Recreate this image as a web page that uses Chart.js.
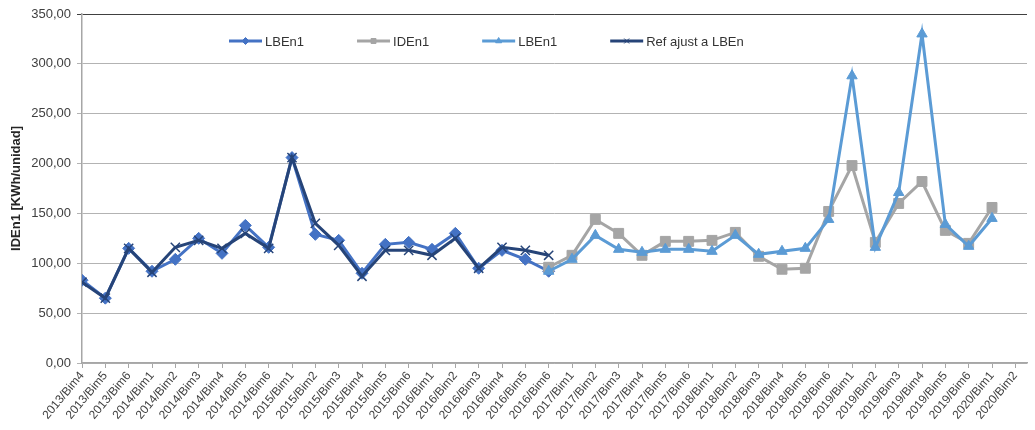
<!DOCTYPE html>
<html>
<head>
<meta charset="utf-8">
<script src="https://cdn.jsdelivr.net/npm/chart.js@4/dist/chart.umd.min.js"></script>
<style>
  html, body { margin: 0; padding: 0; background: #ffffff; }
  #wrap { width: 1035px; height: 430px; position: relative; }
</style>
</head>
<body>
<div id="wrap"><canvas id="c"></canvas></div>
<script>
// Bimonthly periods on the category axis
const periods = [
  '2013/Bim4', '2013/Bim5', '2013/Bim6',
  '2014/Bim1', '2014/Bim2', '2014/Bim3', '2014/Bim4', '2014/Bim5', '2014/Bim6',
  '2015/Bim1', '2015/Bim2', '2015/Bim3', '2015/Bim4', '2015/Bim5', '2015/Bim6',
  '2016/Bim1', '2016/Bim2', '2016/Bim3', '2016/Bim4', '2016/Bim5', '2016/Bim6',
  '2017/Bim1', '2017/Bim2', '2017/Bim3', '2017/Bim4', '2017/Bim5', '2017/Bim6',
  '2018/Bim1', '2018/Bim2', '2018/Bim3', '2018/Bim4', '2018/Bim5', '2018/Bim6',
  '2019/Bim1', '2019/Bim2', '2019/Bim3', '2019/Bim4', '2019/Bim5', '2019/Bim6',
  '2020/Bim1', '2020/Bim2'
];

// Baseline period (2013/Bim4 .. 2016/Bim6)
const lbEn1Base = [83, 65, 115, 92, 104, 125, 110, 138, 116, 206, 129, 123, 90, 119, 121, 114, 130, 95, 113, 104, 92];
const refAdjusted = [81, 65, 115, 91, 116, 123, 115, 130, 115, 206, 140, 118, 87, 113, 113, 108, 125, 95, 116, 113, 108];

// Reporting period (2016/Bim6 .. 2020/Bim1)
const idEn1 = [96, 108, 144, 130, 108, 122, 122, 123, 131, 107, 94, 95, 152, 198, 121, 160, 182, 133, 120, 156];
const lbEn1Report = [92, 104, 128, 114, 111, 114, 114, 112, 128, 109, 112, 115, 144, 288, 116, 171, 330, 139, 117, 145];

const baseStart = 0;     // index of 2013/Bim4
const reportStart = 20;  // index of 2016/Bim6

// Y axis ticks
const yTicks = [0, 50, 100, 150, 200, 250, 300, 350];

function toPoints(values, start) {
  return values.map((v, i) => ({ x: start + i, y: v }));
}

function fmt(v) {
  return v.toFixed(2).replace('.', ',');
}

const FONT = "'Liberation Sans', Arial, sans-serif";
Chart.defaults.font.family = FONT;

// Line + marker key drawn inside the plot area
const seriesKey = {
  id: 'seriesKey',
  afterDraw(chart, args, opts) {
    const { ctx, chartArea } = chart;
    const lineLen = 33, textGap = 3, itemGap = 53;
    ctx.save();
    ctx.font = '13px ' + FONT;
    ctx.textBaseline = 'middle';
    let x = chartArea.left + 147;
    const y = chartArea.top + 27;
    opts.order.forEach(i => {
      const ds = chart.data.datasets[i];
      ctx.strokeStyle = ds.borderColor;
      ctx.lineWidth = 3;
      ctx.beginPath();
      ctx.moveTo(x, y);
      ctx.lineTo(x + lineLen, y);
      ctx.stroke();
      ctx.fillStyle = ds.pointBackgroundColor;
      ctx.strokeStyle = ds.pointBorderColor;
      ctx.lineWidth = 1;
      Chart.helpers.drawPoint(ctx, { pointStyle: ds.pointStyle, radius: 3.5, borderWidth: 1, rotation: 0 }, x + lineLen / 2, y);
      ctx.fillStyle = '#333333';
      ctx.fillText(ds.label, x + lineLen + textGap, y + 1);
      x += lineLen + textGap + ctx.measureText(ds.label).width + itemGap;
    });
    ctx.restore();
  }
};

function lineSet(label, data, color, style, radius, order, borderW) {
  return {
    label: label,
    data: data,
    borderColor: color,
    backgroundColor: color,
    pointBackgroundColor: color,
    pointBorderColor: color,
    pointStyle: style,
    pointRadius: radius,
    pointBorderWidth: borderW,
    borderWidth: 3,
    tension: 0,
    fill: false,
    order: order
  };
}

new Chart(document.getElementById('c'), {
  type: 'line',
  data: {
    datasets: [
      lineSet('LBEn1', toPoints(lbEn1Base, baseStart), '#4472C4', 'rectRot', 6, 3, 1),
      lineSet('IDEn1', toPoints(idEn1, reportStart), '#A5A5A5', 'rect', 7, 2, 1),
      lineSet('LBEn1', toPoints(lbEn1Report, reportStart), '#5B9BD5', 'triangle', 6, 1, 1),
      lineSet('Ref ajust a LBEn', toPoints(refAdjusted, baseStart), '#264478', 'crossRot', 6.5, 0, 1.5)
    ]
  },
  options: {
    responsive: true,
    maintainAspectRatio: false,
    animation: false,
    events: [],
    layout: { padding: { top: 14, right: 1, left: 0, bottom: 0 } },
    plugins: {
      legend: { display: false },
      tooltip: { enabled: false },
      seriesKey: { order: [0, 1, 2, 3] }
    },
    scales: {
      x: {
        type: 'linear',
        min: 0,
        max: 40.5,
        afterFit: s => { s.height = 67; },
        grid: { drawOnChartArea: false, drawTicks: true, tickLength: 5, color: '#a6a6a6' },
        border: { color: '#a6a6a6', width: 1.5 },
        ticks: {
          stepSize: 1,
          autoSkip: false,
          includeBounds: false,
          maxRotation: 50,
          minRotation: 50,
          padding: 1,
          color: '#404040',
          font: { size: 12 },
          callback: v => (periods[v] !== undefined ? periods[v] : '')
        }
      },
      y: {
        min: 0,
        max: 350,
        afterFit: s => { s.width = 82; },
        afterBuildTicks: s => { s.ticks = yTicks.map(v => ({ value: v })); },
        grid: {
          color: c => (c.tick && c.tick.value === 350 ? '#404040' : '#b3b3b3'),
          lineWidth: 1,
          tickLength: 5
        },
        border: { color: '#a6a6a6', width: 1.5 },
        ticks: {
          padding: 6,
          color: '#404040',
          font: { size: 13 },
          callback: v => fmt(v)
        },
        title: {
          display: true,
          text: 'IDEn1 [KWh/unidad]',
          color: '#262626',
          font: { size: 13, weight: 'bold' },
          padding: { top: 9, bottom: 0 }
        }
      }
    }
  },
  plugins: [seriesKey]
});
</script>
</body>
</html>
